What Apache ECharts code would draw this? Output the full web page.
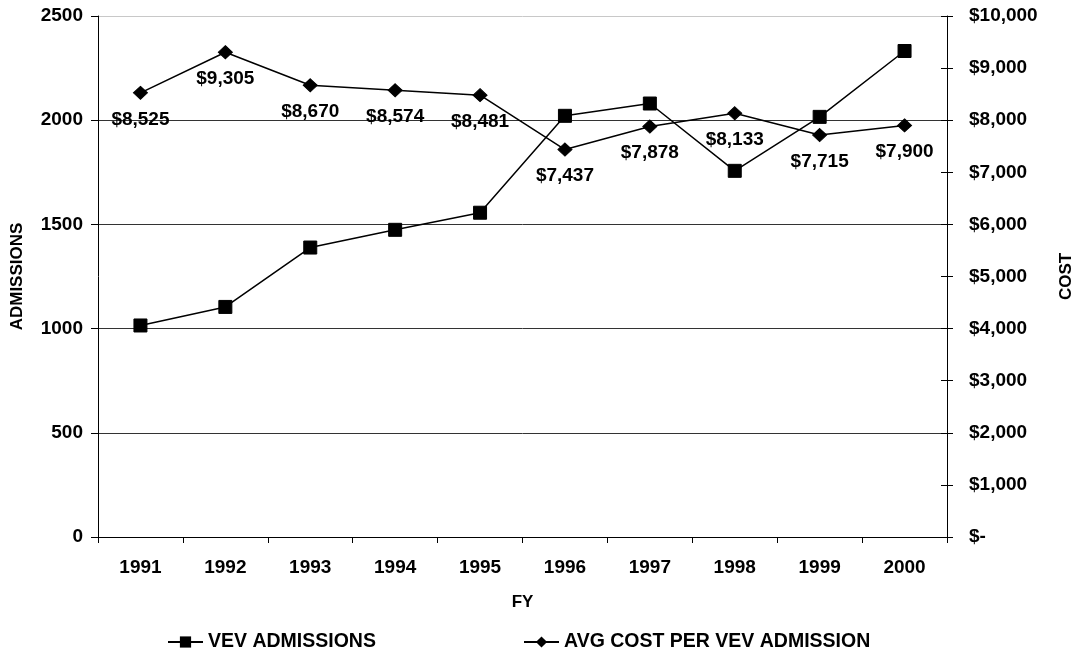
<!DOCTYPE html>
<html>
<head>
<meta charset="utf-8">
<script src="https://cdn.jsdelivr.net/npm/echarts@6/dist/echarts.min.js"></script>
<style>
html,body{margin:0;padding:0;background:#fff;}
#chart{width:1083px;height:654px;}
</style>
</head>
<body>
<div id="chart"></div>
<script>
const years = ['1991','1992','1993','1994','1995','1996','1997','1998','1999','2000'];
const admissions = [1015, 1104, 1389, 1474, 1556, 2021, 2080, 1757, 2016, 2332];
const avgCost = [8525, 9305, 8670, 8574, 8481, 7437, 7878, 8133, 7715, 7900];
const seriesNames = ['VEV ADMISSIONS', 'AVG COST PER VEV ADMISSION'];

const FONT = '"Liberation Sans", Arial, sans-serif';
function money(v){
  if (v === 0) return '$-';
  return '$' + v.toLocaleString('en-US');
}
const chart = echarts.init(document.getElementById('chart'));
chart.setOption({
  animation: false,
  backgroundColor: '#fff',
  textStyle: {fontFamily: FONT},
  grid: {left: 98, right: 130, top: 16, bottom: 117, containLabel: false},
  legend: [
    {data: [seriesNames[0]], left: 162, top: 627, itemWidth: 35, itemHeight: 14, itemGap: 6,
     textStyle: {fontFamily: FONT, fontSize: 19.5, fontWeight: 'bold', color: '#000'}},
    {data: [seriesNames[1]], left: 518, top: 627, itemWidth: 35, itemHeight: 14, itemGap: 6,
     textStyle: {fontFamily: FONT, fontSize: 19.5, fontWeight: 'bold', color: '#000'}}
  ],
  xAxis: {
    type: 'category', data: years, boundaryGap: true,
    name: 'FY', nameLocation: 'middle', nameGap: 57,
    nameTextStyle: {fontFamily: FONT, fontSize: 17, fontWeight: 'bold', color: '#000'},
    axisLine: {lineStyle: {color: '#000', width: 1}},
    axisTick: {show: true, length: 6, lineStyle: {color: '#000'}},
    axisLabel: {fontFamily: FONT, fontSize: 19, fontWeight: 'bold', color: '#000', margin: 21}
  },
  yAxis: [
    {
      type: 'value', min: 0, max: 2500, interval: 500, position: 'left',
      name: 'ADMISSIONS', nameLocation: 'middle', nameGap: 72, nameRotate: 90,
      nameTextStyle: {fontFamily: FONT, fontSize: 17, fontWeight: 'bold', color: '#000'},
      axisLine: {show: true, lineStyle: {color: '#000', width: 1}},
      axisTick: {show: true, length: 7, lineStyle: {color: '#000'}},
      axisLabel: {fontFamily: FONT, fontSize: 19, fontWeight: 'bold', color: '#000', margin: 15,
                  formatter: v => String(v)},
      splitLine: {show: true, lineStyle: {color: ['#000', '#333', '#333', '#333', '#333', '#c8c8c8'], width: 1}}
    },
    {
      type: 'value', min: 0, max: 10000, interval: 1000, position: 'right',
      name: 'COST', nameLocation: 'middle', nameGap: 111, nameRotate: 90,
      nameTextStyle: {fontFamily: FONT, fontSize: 17, fontWeight: 'bold', color: '#000'},
      axisLine: {show: true, lineStyle: {color: '#000', width: 1}},
      axisTick: {show: true, length: 6, lineStyle: {color: '#000'}},
      axisLabel: {fontFamily: FONT, fontSize: 19, fontWeight: 'bold', color: '#000', margin: 22, formatter: money},
      splitLine: {show: false}
    },
    {
      type: 'value', min: 0, max: 10000, interval: 1000, position: 'right',
      axisLine: {show: false},
      axisTick: {show: true, inside: true, length: 6, lineStyle: {color: '#000'}},
      axisLabel: {show: false},
      splitLine: {show: false}
    }
  ],
  series: [
    {
      name: seriesNames[0], type: 'line', yAxisIndex: 0, data: admissions,
      symbol: 'rect', symbolSize: 13, showAllSymbol: true,
      lineStyle: {color: '#000', width: 1.5},
      itemStyle: {color: '#000', borderColor: '#000'},
      z: 3
    },
    {
      name: seriesNames[1], type: 'line', yAxisIndex: 1, data: avgCost,
      symbol: 'diamond', symbolSize: [14, 13], showAllSymbol: true,
      lineStyle: {color: '#000', width: 1.5},
      itemStyle: {color: '#000', borderColor: '#000'},
      label: {show: true, position: 'bottom', distance: 10, formatter: p => money(p.value),
              fontFamily: FONT, fontSize: 19, fontWeight: 'bold', color: '#000'},
      z: 4
    }
  ]
});
</script>
</body>
</html>
